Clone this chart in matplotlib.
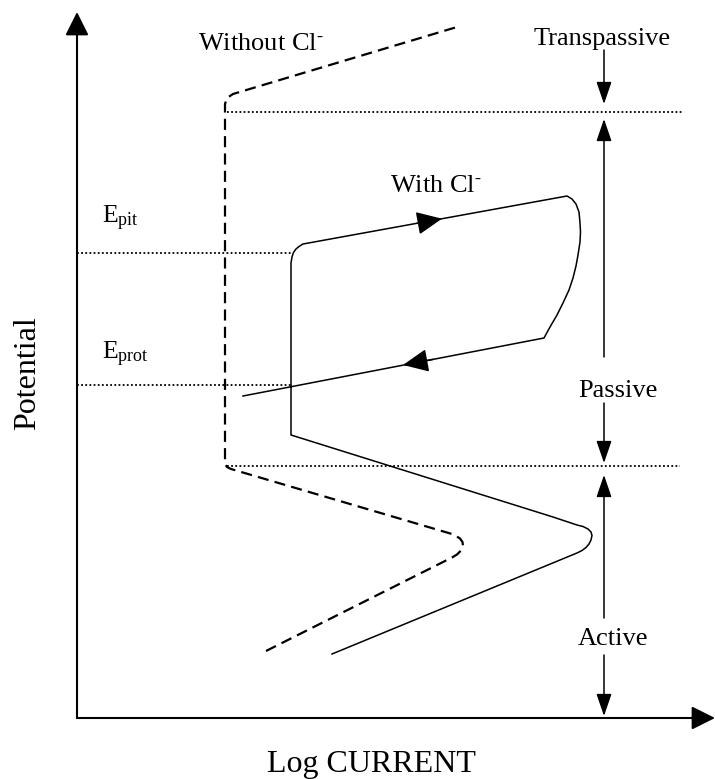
import matplotlib
matplotlib.use("Agg")
import matplotlib.pyplot as plt
import numpy as np

plt.rcParams['font.family'] = ['Liberation Serif', 'DejaVu Serif']
plt.rcParams['mathtext.fontset'] = 'custom'
plt.rcParams['mathtext.rm'] = 'Liberation Serif'
plt.rcParams['mathtext.it'] = 'Liberation Serif:italic'

# ---- data (log current, potential) in schematic units ----
# curve without chloride (dashed)
noCl_current = [189, 375, 380, 384, 386, 385.5, 383, 379, 375, 154, 150, 148, 148, 150, 156, 380]
noCl_potential = [67, 160.5, 163.5, 167.5, 172, 176, 179.5, 182, 184, 249, 251, 254, 614, 620, 624, 691]

# curve with chloride (solid), forward scan then reverse scan
cl_current = [255, 500, 505, 509, 512, 514, 515, 514, 511, 506, 500, 476,
              214, 214, 215, 216.5, 219, 222, 226,
              490, 495, 499, 502, 503, 503.5, 503, 501, 499, 496, 492, 486, 480, 473, 467, 166]
cl_potential = [64, 165, 167.5, 170.5, 174, 178, 182.5, 186, 189, 191.5, 193, 201,
                283, 455, 461, 465.5, 469, 471.5, 474,
                522, 519, 514, 506, 495, 486, 476, 463, 452, 440, 428, 415, 403, 391, 380, 322]

# direction arrows on the chloride curve: (tail, tip)
scan_arrows = [((340, 494.7), (365, 499.3)),
               ((356, 358.6), (326, 353.0))]

# characteristic potentials
E_transpassive = 606
E_passive_low = 252
E_pit = 465
E_prot = 333

# region markers at current x = 527
region_x = 527
region_arrows = [(668, 614), (361, 599), (315, 255), (100, 243), (63, 2)]

axis_x_end = 638
axis_y_end = 706

fig = plt.figure(figsize=(7.15, 7.79), dpi=100)
ax = fig.add_axes([0, 0, 1, 1])
ax.set_xlim(-77, 638)
ax.set_ylim(-61, 718)
ax.axis('off')

K = 'black'

def arrow(tail, tip, hl, hw, lw):
    ax.annotate('', xy=tip, xytext=tail,
                arrowprops=dict(arrowstyle=f'-|>,head_length={hl},head_width={hw}',
                                mutation_scale=1, lw=lw, color=K,
                                shrinkA=0, shrinkB=0))

# axes with arrows
arrow((0, 0), (0, axis_y_end), 14.4, 7.2, 1.5)
arrow((0, 0), (axis_x_end, 0), 14.4, 7.2, 1.5)

# dotted reference lines
dot = dict(color=K, lw=1.3, linestyle=(0, (1, 1.3)))
ax.plot([150, 605], [E_transpassive] * 2, **dot)
ax.plot([150, 603], [E_passive_low] * 2, **dot)
ax.plot([0, 214], [E_pit] * 2, **dot)
ax.plot([0, 214], [E_prot] * 2, **dot)

# curves
ax.plot(noCl_current, noCl_potential, color=K, lw=1.6, linestyle=(0, (5, 2.8)),
        solid_joinstyle='round')
ax.plot(cl_current, cl_potential, color=K, lw=1.1, solid_joinstyle='round')

for tail, tip in scan_arrows:
    arrow(tail, tip, 15.8, 7.2, 1.1)

for y0, y1 in region_arrows:
    arrow((region_x, y0), (region_x, y1), 13.7, 4.7, 1.1)

fs = 19
ax.text(121, 668, r'Without Cl$^{\text{-}}$', fontsize=fs, ha='left', va='baseline')
ax.text(525, 673, 'Transpassive', fontsize=fs, ha='center', va='baseline')
ax.text(313, 526, r'With Cl$^{\text{-}}$', fontsize=fs, ha='left', va='baseline')
ax.text(25, 495, r'E$_{\mathrm{pit}}$', fontsize=18.5, ha='left', va='baseline')
ax.text(25, 359, r'E$_{\mathrm{prot}}$', fontsize=18.5, ha='left', va='baseline')
ax.text(501, 321, 'Passive', fontsize=fs, ha='left', va='baseline')
ax.text(501, 73, 'Active', fontsize=fs, ha='left', va='baseline')
ax.text(294, -54, 'Log CURRENT', fontsize=23, ha='center', va='baseline')
ax.text(-42, 345, 'Potential', fontsize=23, ha='center', va='baseline',
        rotation=90, rotation_mode='anchor')

fig.savefig('out.png', dpi=100)
